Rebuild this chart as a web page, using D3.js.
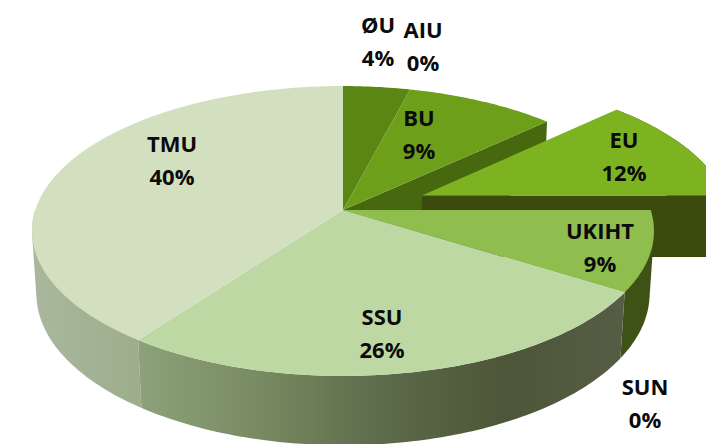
<!DOCTYPE html>
<html>
<head>
<meta charset="utf-8">
<style>
	html, body { margin: 0; padding: 0; background: #fff; overflow: hidden; }
	text { font-family: 'Open Sans', sans-serif; font-weight: 700; fill: #0b0b0b; }
</style>
<script src="https://cdn.jsdelivr.net/npm/d3@7"></script>
</head>
<body>
<svg id="chart" width="706" height="444"></svg>
<script>
var categories = [ 'ØU', 'AIU', 'BU', 'EU', 'UKIHT', 'SUN', 'SSU', 'TMU' ];
var shares = [ 4, 0, 9, 12, 9, 0, 26, 40 ];

// colours of the top faces
var topColors = {
	'ØU': '#5b8613', 'BU': '#6d9f1b', 'EU': '#7db321', 'UKIHT': '#8fbd4e',
	'SSU': '#bdd8a3', 'TMU': '#d2e0c0'
};

// label centres
var labelAt = {
	'ØU': [ 378, 25 ], 'AIU': [ 423, 30 ], 'BU': [ 419, 118 ], 'EU': [ 624, 140 ],
	'UKIHT': [ 600, 231 ], 'SSU': [ 382, 317 ], 'SUN': [ 645, 387 ], 'TMU': [ 172, 144 ]
};

var svg = d3.select( '#chart' );
var defs = svg.append( 'defs' );

// the pie is a flat disc seen in perspective, so unit disc coordinates
// go through a projective map. One map for the top plane, one for the bottom.
var radius = 307.7;
var cx = 343;
var topPlane = { c: 1, a: 111.5, b: 210 };
var bottomPlane = { c: 1.014, a: 111, b: 276 };
var tilt = -0.1448;

function project( plane, u, v ) {
	var d = plane.c + tilt * v;
	return [ cx + radius * u / d, ( plane.a * v + plane.b ) / d ];
}

var pie = d3.pie().sort( null ).value( function( d, i ) {
	return shares[ i ];
} );
var slices = pie( categories );
var byName = {};
slices.forEach( function( s ) {
	byName[ s.data ] = s;
} );

var line = d3.line();

// points along the rim, offset by the explode vector
function rim( plane, start, end, offset ) {
	var n = Math.max( 2, Math.ceil( ( end - start ) * 60 ) );
	return d3.range( n + 1 ).map( function( i ) {
		var t = start + ( end - start ) * i / n;
		return project( plane, Math.sin( t ) + offset[ 0 ], -Math.cos( t ) + offset[ 1 ] );
	} );
}

function explodeOffset( s, amount ) {
	var mid = ( s.startAngle + s.endAngle ) / 2;
	return [ Math.sin( mid ) * amount, -Math.cos( mid ) * amount ];
}

function gradient( id, x1, x2, stops ) {
	var g = defs.append( 'linearGradient' )
		.attr( 'id', id )
		.attr( 'gradientUnits', 'userSpaceOnUse' )
		.attr( 'x1', x1 ).attr( 'x2', x2 )
		.attr( 'y1', 0 ).attr( 'y2', 0 );
	stops.forEach( function( st ) {
		g.append( 'stop' ).attr( 'offset', st[ 0 ] ).attr( 'stop-color', st[ 1 ] );
	} );
}

gradient( 'sideTMU', 33, 140, [ [ 0, '#aab79d' ], [ 0.5, '#a3b294' ], [ 1, '#9dae8b' ] ] );
gradient( 'sideSSU', 140, 625, [ [ 0, '#8da27a' ], [ 0.25, '#788a61' ], [ 0.5, '#5c6b4a' ], [ 0.75, '#4d5638' ], [ 1, '#565d45' ] ] );

var noOffset = [ 0, 0 ];

// hull closes the gap between the two rims where the wall turns out of sight
function sideFace( start, end, offset, fill, useHull ) {
	var up = rim( topPlane, start, end, offset );
	var down = rim( bottomPlane, start, end, offset ).reverse();
	var points = up.concat( down );
	svg.append( 'path' )
		.attr( 'd', line( useHull ? d3.polygonHull( points ) : points ) + 'Z' )
		.attr( 'fill', fill );
}

function topFace( s, offset ) {
	var apex = project( topPlane, offset[ 0 ], offset[ 1 ] );
	svg.append( 'path' )
		.attr( 'd', line( [ apex ].concat( rim( topPlane, s.startAngle, s.endAngle, offset ) ) ) + 'Z' )
		.attr( 'fill', topColors[ s.data ] );
}

// cut face of a slice, from the centre out to the rim at one angle
function cutFace( angle, offset, fill ) {
	var u = Math.sin( angle ) + offset[ 0 ];
	var v = -Math.cos( angle ) + offset[ 1 ];
	svg.append( 'path' )
		.attr( 'd', line( [
			project( topPlane, offset[ 0 ], offset[ 1 ] ),
			project( topPlane, u, v ),
			project( bottomPlane, u, v ),
			project( bottomPlane, offset[ 0 ], offset[ 1 ] )
		] ) + 'Z' )
		.attr( 'fill', fill );
}

var eu = byName[ 'EU' ];
var ukiht = byName[ 'UKIHT' ];
var ssu = byName[ 'SSU' ];
var tmu = byName[ 'TMU' ];
var euOffset = explodeOffset( eu, 0.28 );

// back to front
cutFace( byName[ 'BU' ].endAngle, noOffset, '#47680f' );
sideFace( eu.startAngle, eu.endAngle, euOffset, '#3a4b0d', false );
cutFace( eu.endAngle, euOffset, '#3a4b0d' );
topFace( eu, euOffset );

sideFace( ukiht.startAngle, ukiht.endAngle, noOffset, '#3f5216', true );
// the back of this wall is hidden, stop just past the widest point of the disc
sideFace( tmu.startAngle, 1.5 * Math.PI, noOffset, 'url(#sideTMU)', true );
sideFace( ssu.startAngle, ssu.endAngle, noOffset, 'url(#sideSSU)', false );

[ 'ØU', 'BU', 'UKIHT', 'SSU', 'TMU' ].forEach( function( name ) {
	topFace( byName[ name ], noOffset );
} );

// labels
var labels = svg.append( 'g' )
	.selectAll( 'g' )
	.data( slices )
	.enter()
	.append( 'g' )
	.attr( 'transform', function( d ) {
		return 'translate(' + labelAt[ d.data ] + ')';
	} )
	.attr( 'text-anchor', 'middle' )
	.style( 'font-size', '22px' );

labels.append( 'text' )
	.attr( 'dy', '0.36em' )
	.text( function( d ) {
		return d.data;
	} );

labels.append( 'text' )
	.attr( 'y', 33 )
	.attr( 'dy', '0.36em' )
	.text( function( d ) {
		return d.value + '%';
	} );
</script>
</body>
</html>
